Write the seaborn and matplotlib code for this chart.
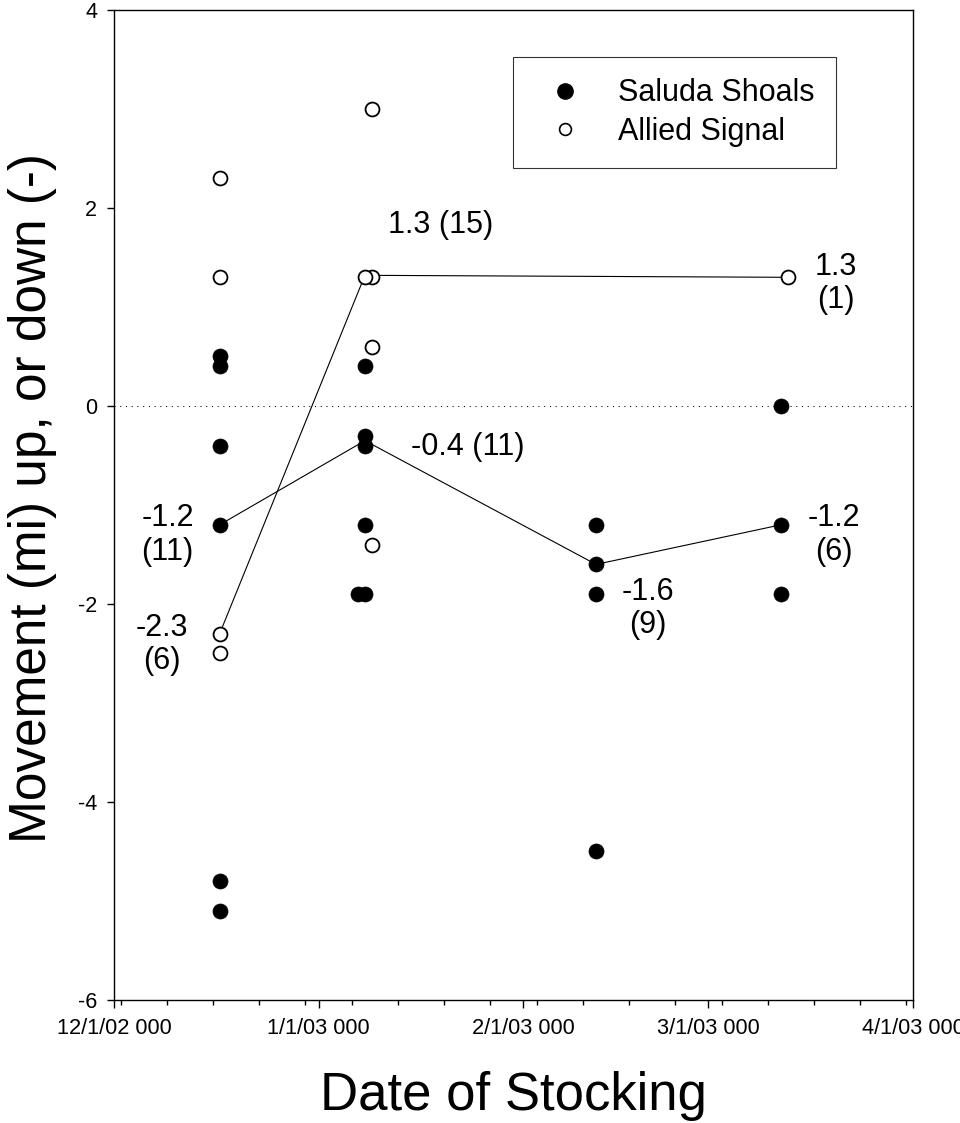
import matplotlib
matplotlib.use("Agg")
import matplotlib.pyplot as plt
import matplotlib.dates as mdates
from matplotlib.lines import Line2D
import seaborn as sns
import pandas as pd

# individual fish movements, Saluda Shoals (filled markers)
saluda_dates = [
    "2002-12-17", "2002-12-17", "2002-12-17", "2002-12-17", "2002-12-17", "2002-12-17",
    "2003-01-08", "2003-01-08", "2003-01-08", "2003-01-08", "2003-01-08", "2003-01-07",
    "2003-02-12", "2003-02-12", "2003-02-12", "2003-02-12",
    "2003-03-12", "2003-03-12", "2003-03-12",
]
saluda_moves = [
    0.5, 0.4, -0.4, -1.2, -4.8, -5.1,
    0.4, -0.3, -0.4, -1.2, -1.9, -1.9,
    -1.2, -1.6, -1.9, -4.5,
    0.0, -1.2, -1.9,
]

# individual fish movements, Allied Signal (open markers)
allied_dates = [
    "2002-12-17", "2002-12-17", "2002-12-17", "2002-12-17",
    "2003-01-09", "2003-01-09", "2003-01-08", "2003-01-09", "2003-01-09",
    "2003-03-13",
]
allied_moves = [
    2.3, 1.3, -2.3, -2.5,
    3.0, 1.3, 1.3, 0.6, -1.4,
    1.3,
]

# group means (connected lines) with labels "mean (n)"
saluda_mean_dates = ["2002-12-17", "2003-01-08", "2003-02-12", "2003-03-12"]
saluda_means = [-1.2, -0.35, -1.6, -1.2]
saluda_labels = ["-1.2\n(11)", "-0.4 (11)", "-1.6\n(9)", "-1.2\n(6)"]

allied_mean_dates = ["2002-12-17", "2003-01-08", "2003-03-13"]
allied_means = [-2.3, 1.32, 1.3]
allied_labels = ["-2.3\n(6)", "1.3 (15)", "1.3\n(1)"]

tick_dates = ["2002-12-01", "2003-01-01", "2003-02-01", "2003-03-01", "2003-04-01"]
tick_labels = ["12/1/02 000", "1/1/03 000", "2/1/03 000", "3/1/03 000", "4/1/03 000"]
y_ticks = [-6, -4, -2, 0, 2, 4]

sal = pd.DataFrame({"date": pd.to_datetime(saluda_dates), "move": saluda_moves})
all_ = pd.DataFrame({"date": pd.to_datetime(allied_dates), "move": allied_moves})
sal_mean = pd.DataFrame({"date": pd.to_datetime(saluda_mean_dates), "mean": saluda_means})
all_mean = pd.DataFrame({"date": pd.to_datetime(allied_mean_dates), "mean": allied_means})

sns.set_theme(style="ticks", rc={
    "text.color": "black", "axes.labelcolor": "black",
    "xtick.color": "black", "ytick.color": "black", "axes.edgecolor": "black",
})
plt.rcParams["font.family"] = ["Liberation Sans", "DejaVu Sans"]

fig = plt.figure(figsize=(9.6, 11.23), dpi=100)
ax = fig.add_axes([114 / 960, 1 - 1000 / 1123, 799 / 960, 990 / 1123])

ax.axhline(0, color="black", lw=0.75, ls=(0, (1, 4.5)), zorder=1)

sns.lineplot(data=sal_mean, x="date", y="mean", estimator=None, sort=False,
             color="black", lw=0.8, ax=ax, zorder=2)
sns.lineplot(data=all_mean, x="date", y="mean", estimator=None, sort=False,
             color="black", lw=0.8, ax=ax, zorder=2)

sns.scatterplot(data=sal, x="date", y="move", s=117, color="black",
                edgecolor="black", linewidth=0.5, ax=ax, zorder=3)
sns.scatterplot(data=all_, x="date", y="move", s=100, facecolor="white",
                edgecolor="black", linewidth=1.3, ax=ax, zorder=4)

# label offsets in points (placement only)
sal_offsets = [(-37.4, -7.2, "center"), (33.1, -4.3, "left"), (37.4, -31.7, "center"), (38.4, -7.2, "center")]
all_offsets = [(-41.8, -7.9, "center"), (16.6, 36, "left"), (34.6, -4.3, "center")]

for d, m, lab, (dx, dy, ha) in zip(sal_mean["date"], sal_mean["mean"], saluda_labels, sal_offsets):
    ax.annotate(lab, xy=(d, m), xytext=(dx, dy), textcoords="offset points",
                ha=ha, va="center", fontsize=22, linespacing=1.15, color="black")
for d, m, lab, (dx, dy, ha) in zip(all_mean["date"], all_mean["mean"], allied_labels, all_offsets):
    ax.annotate(lab, xy=(d, m), xytext=(dx, dy), textcoords="offset points",
                ha=ha, va="center", fontsize=22, linespacing=1.15, color="black")

ax.set_xlim(pd.Timestamp(tick_dates[0]), pd.Timestamp(tick_dates[-1]))
ax.set_ylim(-6, 4)
ax.set_xticks(pd.to_datetime(tick_dates))
ax.set_xticklabels(tick_labels, fontsize=15.7)
ax.xaxis.set_minor_locator(mdates.WeekdayLocator(byweekday=mdates.MO))
ax.set_yticks(y_ticks)
ax.set_yticklabels([str(v) for v in y_ticks], fontsize=15.5)

ax.tick_params(axis="x", which="major", direction="out", length=5.8, width=1, pad=7, colors="black")
ax.tick_params(axis="x", which="minor", direction="out", length=3.6, width=1, colors="black")
ax.tick_params(axis="y", which="major", direction="out", length=5, width=1, pad=7, colors="black")
for sp in ax.spines.values():
    sp.set_visible(True)
    sp.set_color("black")
    sp.set_linewidth(1)

ax.set_xlabel("Date of Stocking", fontsize=38, va="baseline", color="black")
ax.xaxis.set_label_coords(0.5, -0.111)
ax.set_ylabel("Movement (mi) up, or down (-)", fontsize=37, va="center", color="black")
ax.yaxis.set_label_coords(-0.1026, 0.507)

handles = [
    Line2D([], [], ls="none", marker="o", markersize=11, markerfacecolor="black", markeredgecolor="black"),
    Line2D([], [], ls="none", marker="o", markersize=8.5, markerfacecolor="white",
           markeredgecolor="black", markeredgewidth=1.2),
]
leg = ax.legend(handles, ["Saluda Shoals", "Allied Signal"], loc="upper left",
                bbox_to_anchor=(0.4994, 0.9525), borderaxespad=0, fontsize=22,
                frameon=True, fancybox=False, borderpad=0.7, labelspacing=0.28,
                handlelength=2, handletextpad=0.75)
leg.get_frame().set_edgecolor("black")
leg.get_frame().set_linewidth(0.8)
for t in leg.get_texts():
    t.set_color("black")

fig.savefig("out.png", dpi=100)
